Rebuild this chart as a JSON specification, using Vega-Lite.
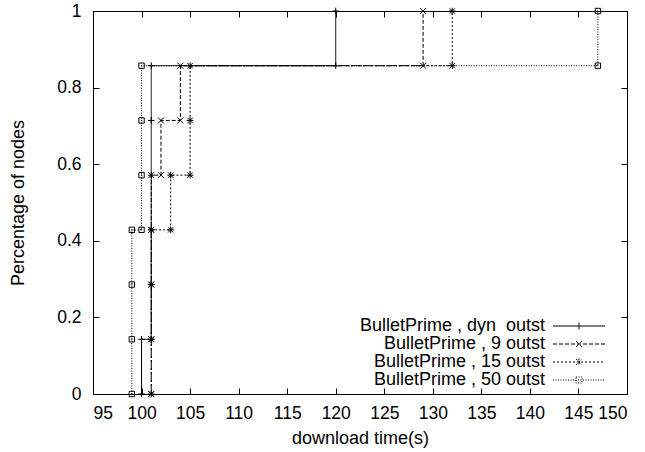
{
  "$schema": "https://vega.github.io/schema/vega-lite/v6.json",
  "width": 534,
  "height": 383,
  "autosize": {"type": "none"},
  "padding": {"left": 93, "top": 11, "right": 18, "bottom": 58},
  "background": "white",
  "config": {
    "view": {"stroke": "black", "strokeWidth": 1},
    "font": "Liberation Sans",
    "axis": {
      "domain": false,
      "grid": false,
      "tickColor": "black",
      "tickSize": -6,
      "tickWidth": 1,
      "labelColor": "black",
      "labelFont": "Liberation Sans",
      "labelFontSize": 17.5,
      "titleFont": "Liberation Sans",
      "titleFontSize": 18,
      "titleFontWeight": "normal",
      "titleColor": "black"
    },
    "point": {"filled": false, "stroke": "black", "strokeWidth": 1, "opacity": 1, "size": 45}
  },
  "resolve": {"axis": {"x": "independent", "y": "independent"}},
  "data": {
    "values": [
      {"series": "BulletPrime , dyn  outst", "i": 0, "t": 100, "p": 0},
      {"series": "BulletPrime , dyn  outst", "i": 1, "t": 100, "p": 0.142857},
      {"series": "BulletPrime , dyn  outst", "i": 2, "t": 101, "p": 0.142857},
      {"series": "BulletPrime , dyn  outst", "i": 3, "t": 101, "p": 0.285714},
      {"series": "BulletPrime , dyn  outst", "i": 4, "t": 101, "p": 0.428571},
      {"series": "BulletPrime , dyn  outst", "i": 5, "t": 101, "p": 0.571429},
      {"series": "BulletPrime , dyn  outst", "i": 6, "t": 101, "p": 0.714286},
      {"series": "BulletPrime , dyn  outst", "i": 7, "t": 101, "p": 0.857143},
      {"series": "BulletPrime , dyn  outst", "i": 8, "t": 120, "p": 0.857143},
      {"series": "BulletPrime , dyn  outst", "i": 9, "t": 120, "p": 1},

      {"series": "BulletPrime , 9 outst", "i": 0, "t": 101, "p": 0},
      {"series": "BulletPrime , 9 outst", "i": 1, "t": 101, "p": 0.142857},
      {"series": "BulletPrime , 9 outst", "i": 2, "t": 101, "p": 0.285714},
      {"series": "BulletPrime , 9 outst", "i": 3, "t": 101, "p": 0.428571},
      {"series": "BulletPrime , 9 outst", "i": 4, "t": 101, "p": 0.571429},
      {"series": "BulletPrime , 9 outst", "i": 5, "t": 102, "p": 0.571429},
      {"series": "BulletPrime , 9 outst", "i": 6, "t": 102, "p": 0.714286},
      {"series": "BulletPrime , 9 outst", "i": 7, "t": 104, "p": 0.714286},
      {"series": "BulletPrime , 9 outst", "i": 8, "t": 104, "p": 0.857143},
      {"series": "BulletPrime , 9 outst", "i": 9, "t": 129, "p": 0.857143},
      {"series": "BulletPrime , 9 outst", "i": 10, "t": 129, "p": 1},

      {"series": "BulletPrime , 15 outst", "i": 0, "t": 101, "p": 0},
      {"series": "BulletPrime , 15 outst", "i": 1, "t": 101, "p": 0.142857},
      {"series": "BulletPrime , 15 outst", "i": 2, "t": 101, "p": 0.285714},
      {"series": "BulletPrime , 15 outst", "i": 3, "t": 101, "p": 0.428571},
      {"series": "BulletPrime , 15 outst", "i": 4, "t": 103, "p": 0.428571},
      {"series": "BulletPrime , 15 outst", "i": 5, "t": 103, "p": 0.571429},
      {"series": "BulletPrime , 15 outst", "i": 6, "t": 105, "p": 0.571429},
      {"series": "BulletPrime , 15 outst", "i": 7, "t": 105, "p": 0.714286},
      {"series": "BulletPrime , 15 outst", "i": 8, "t": 105, "p": 0.857143},
      {"series": "BulletPrime , 15 outst", "i": 9, "t": 132, "p": 0.857143},
      {"series": "BulletPrime , 15 outst", "i": 10, "t": 132, "p": 1},

      {"series": "BulletPrime , 50 outst", "i": 0, "t": 99, "p": 0},
      {"series": "BulletPrime , 50 outst", "i": 1, "t": 99, "p": 0.142857},
      {"series": "BulletPrime , 50 outst", "i": 2, "t": 99, "p": 0.285714},
      {"series": "BulletPrime , 50 outst", "i": 3, "t": 99, "p": 0.428571},
      {"series": "BulletPrime , 50 outst", "i": 4, "t": 100, "p": 0.428571},
      {"series": "BulletPrime , 50 outst", "i": 5, "t": 100, "p": 0.571429},
      {"series": "BulletPrime , 50 outst", "i": 6, "t": 100, "p": 0.714286},
      {"series": "BulletPrime , 50 outst", "i": 7, "t": 100, "p": 0.857143},
      {"series": "BulletPrime , 50 outst", "i": 8, "t": 147, "p": 0.857143},
      {"series": "BulletPrime , 50 outst", "i": 9, "t": 147, "p": 1}
    ]
  },
  "layer": [
    {
      "mark": {"type": "line", "color": "black", "strokeWidth": 1},
      "encoding": {
        "x": {
          "field": "t",
          "type": "quantitative",
          "scale": {"domain": [95, 150], "nice": false, "zero": false},
          "axis": {
            "orient": "bottom",
            "title": "download time(s)",
            "values": [95, 100, 105, 110, 115, 120, 125, 130, 135, 140, 145, 150],
            "labelPadding": 16,
            "titlePadding": 8
          }
        },
        "y": {
          "field": "p",
          "type": "quantitative",
          "scale": {"domain": [0, 1], "nice": false},
          "axis": {
            "orient": "left",
            "title": "Percentage of nodes",
            "values": [0, 0.2, 0.4, 0.6, 0.8, 1],
            "format": "~g",
            "labelPadding": 18,
            "titlePadding": 29
          }
        },
        "order": {"field": "i", "type": "quantitative"},
        "strokeDash": {
          "field": "series",
          "type": "nominal",
          "scale": {
            "domain": ["BulletPrime , dyn  outst", "BulletPrime , 9 outst", "BulletPrime , 15 outst", "BulletPrime , 50 outst"],
            "range": [[1, 0], [4, 2], [2, 2], [1, 1.5]]
          },
          "legend": {
            "title": null,
            "orient": "none",
            "legendX": 459.5,
            "legendY": 306,
            "padding": 0,
            "symbolSize": 100,
            "symbolStrokeWidth": 1,
            "symbolStrokeColor": "black",
            "symbolOffset": 17.5,
            "labelAlign": "right",
            "labelOffset": -43,
            "labelFont": "Liberation Sans",
            "labelFontSize": 18,
            "labelColor": "black",
            "labelLimit": 0,
            "labelExpr": "replace(datum.label, '  ', ' \u00a0')",
            "rowPadding": 0,
            "encode": {
              "symbols": {
                "update": {
                  "shape": {
                    "signal": "datum.value === 'BulletPrime , dyn  outst' ? 'M-5.2,0H5.2M0,-0.7V0.7' : datum.value === 'BulletPrime , 9 outst' ? 'M-5.2,0H5.2M-0.6,-0.6L0.6,0.6M-0.6,0.6L0.6,-0.6' : datum.value === 'BulletPrime , 15 outst' ? 'M-5.2,0H5.2M0,-0.7V0.7M-0.6,-0.6L0.6,0.6M-0.6,0.6L0.6,-0.6' : 'M-5.2,0H5.2M-0.6,-0.6H0.6V0.6H-0.6Z'"
                  }
                }
              }
            }
          }
        }
      }
    },
    {
      "transform": [{"filter": "datum.series === 'BulletPrime , dyn  outst'"}],
      "mark": {"type": "point", "shape": "M-1,0H1M0,-1V1"},
      "encoding": {
        "x": {
          "field": "t",
          "type": "quantitative",
          "axis": {"orient": "top", "title": null, "labels": false, "values": [95, 100, 105, 110, 115, 120, 125, 130, 135, 140, 145, 150]}
        },
        "y": {
          "field": "p",
          "type": "quantitative",
          "axis": {"orient": "right", "title": null, "labels": false, "values": [0, 0.2, 0.4, 0.6, 0.8, 1]}
        }
      }
    },
    {
      "transform": [{"filter": "datum.series === 'BulletPrime , 9 outst'"}],
      "mark": {"type": "point", "shape": "M-1,-1L1,1M-1,1L1,-1", "size": 36},
      "encoding": {
        "x": {"field": "t", "type": "quantitative", "axis": null},
        "y": {"field": "p", "type": "quantitative", "axis": null}
      }
    },
    {
      "transform": [{"filter": "datum.series === 'BulletPrime , 15 outst'"}],
      "mark": {"type": "point", "shape": "M-1,0H1M0,-1V1M-0.8,-0.8L0.8,0.8M-0.8,0.8L0.8,-0.8"},
      "encoding": {
        "x": {"field": "t", "type": "quantitative", "axis": null},
        "y": {"field": "p", "type": "quantitative", "axis": null}
      }
    },
    {
      "transform": [{"filter": "datum.series === 'BulletPrime , 50 outst'"}],
      "mark": {"type": "point", "shape": "M-0.85,-0.85H0.85V0.85H-0.85ZM-0.2,0H0.2", "size": 40},
      "encoding": {
        "x": {"field": "t", "type": "quantitative", "axis": null},
        "y": {"field": "p", "type": "quantitative", "axis": null}
      }
    }
  ]
}
